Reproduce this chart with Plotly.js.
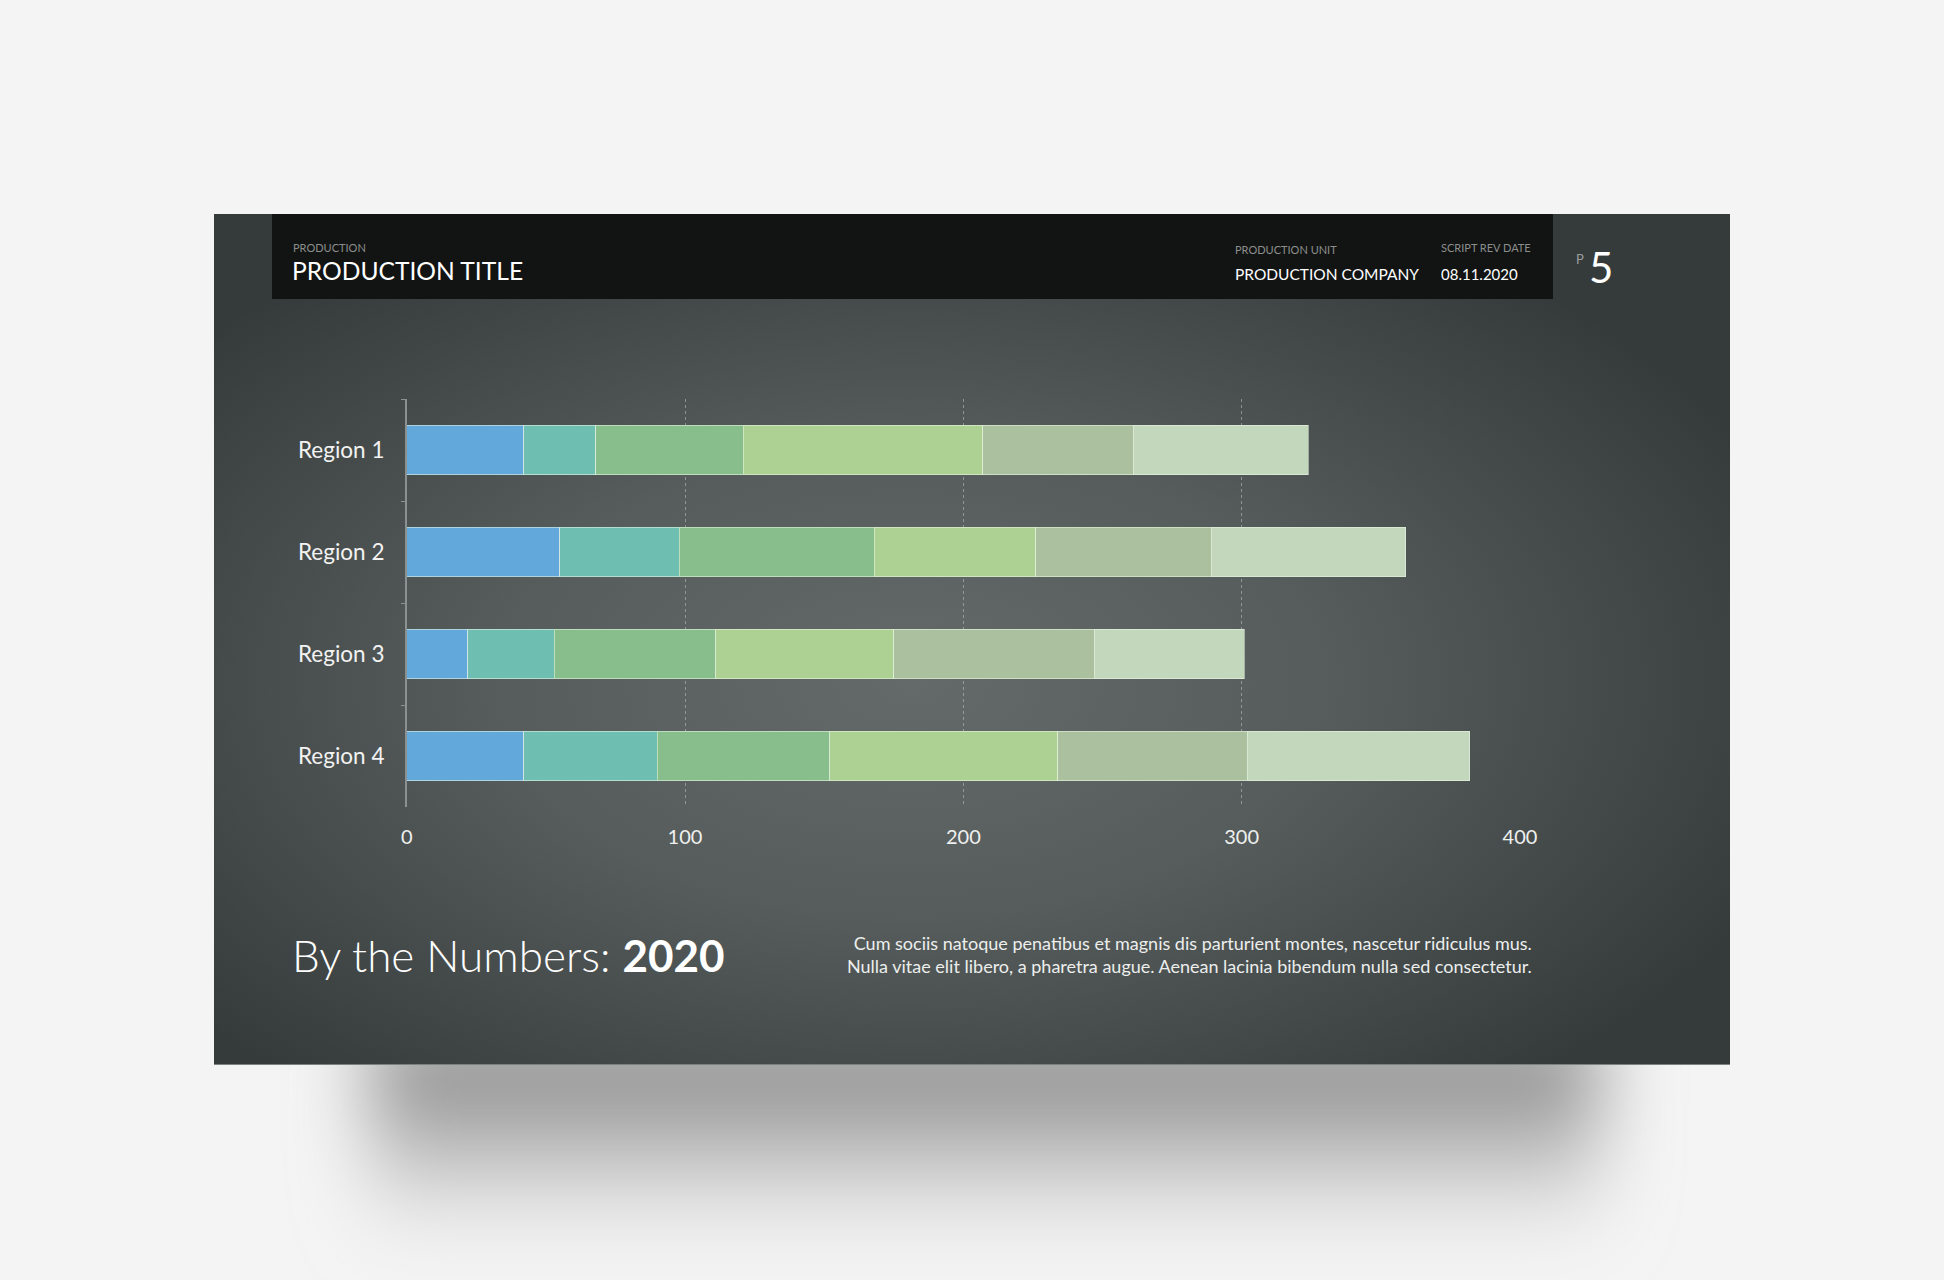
<!DOCTYPE html>
<html>
<head>
<meta charset="utf-8">
<script src="https://cdn.plot.ly/plotly-3.0.1.min.js"></script>
<style>
  html, body { margin: 0; padding: 0; background: #f4f4f4; }
  #chart { width: 1944px; height: 1280px; }
</style>
</head>
<body>
<div id="chart"></div>
<script>
// ---- data ----
const regions = ["Region 1", "Region 2", "Region 3", "Region 4"];
const series1 = [42, 55, 22, 42];
const series2 = [26, 43, 31, 48];
const series3 = [53, 70, 58, 62];
const series4 = [86, 58, 64, 82];
const series5 = [54, 63, 72, 68];
const series6 = [63, 70, 54, 80];
const seriesNames = ["Series 1", "Series 2", "Series 3", "Series 4", "Series 5", "Series 6"];
const xTickValues = [0, 100, 200, 300, 400];
const xTickLabels = ["0", "100", "200", "300", "400"];

// ---- style ----
const colors = ["#62a8da", "#6fbeb2", "#88be8c", "#add192", "#abc09e", "#c3d7bc"];
const W = 1944, H = 1280;
const px = v => v / W;
const py = v => 1 - v / H;
const FONT = "Lato, 'Open Sans', sans-serif";

const allSeries = [series1, series2, series3, series4, series5, series6];
const traces = allSeries.map((vals, i) => ({
  type: "bar",
  orientation: "h",
  name: seriesNames[i],
  y: regions,
  x: vals,
  marker: { color: colors[i], line: { color: "rgba(235,245,230,0.55)", width: 1 } },
  hoverinfo: "x+y+name"
}));

// background slide: gradient + shadow (SVG image)
const bgSvg = `<svg xmlns="http://www.w3.org/2000/svg" width="${W}" height="${H}" viewBox="0 0 ${W} ${H}">
<defs>
<radialGradient id="g" cx="0.46" cy="0.55" r="0.62" gradientUnits="objectBoundingBox">
<stop offset="0" stop-color="#646a69"/>
<stop offset="0.45" stop-color="#565c5b"/>
<stop offset="1" stop-color="#353b3a"/>
</radialGradient>
<linearGradient id="sh" x1="0" y1="0" x2="0" y2="1">
<stop offset="0" stop-color="#7a7a7a" stop-opacity="1"/>
<stop offset="0.5" stop-color="#a8a8a8" stop-opacity="0.8"/>
<stop offset="1" stop-color="#d8d8d8" stop-opacity="0"/>
</linearGradient>
<filter id="b" x="-50%" y="-100%" width="200%" height="300%"><feGaussianBlur stdDeviation="38"/></filter>
</defs>
<rect x="0" y="0" width="${W}" height="${H}" fill="#f4f4f4"/>
<rect x="370" y="1030" width="1230" height="220" fill="url(#sh)" filter="url(#b)"/>
<rect x="214" y="214" width="1516" height="851" fill="url(#g)"/>
<rect x="214" y="1064" width="1516" height="1" fill="#7c8282"/>
</svg>`;
const bgUri = "data:image/svg+xml;charset=utf-8," + encodeURIComponent(bgSvg);

const ann = (text, x, y, size, color, xanchor, extra) => Object.assign({
  text, x: px(x), y: py(y), xref: "paper", yref: "paper",
  xanchor: xanchor || "left", yanchor: "middle", showarrow: false,
  font: { family: FONT, size, color }
}, extra || {});

const layout = {
  width: W, height: H,
  margin: { l: 0, r: 0, t: 0, b: 0, pad: 0 },
  paper_bgcolor: "#f4f4f4",
  plot_bgcolor: "rgba(0,0,0,0)",
  barmode: "stack",
  bargap: 0.514,
  showlegend: false,
  xaxis: {
    domain: [px(406.7), px(1520)],
    range: [0, 400],
    tickvals: xTickValues,
    ticktext: xTickLabels,
    showgrid: true,
    gridcolor: "rgba(190,196,195,0.55)",
    gridwidth: 1,
    griddash: "dot",
    zeroline: false,
    showline: false,
    ticks: "",
    ticklabelstandoff: 16,
    tickfont: { family: FONT, size: 20, color: "#eef0ef" },
    fixedrange: true
  },
  yaxis: {
    domain: [py(807), py(399)],
    autorange: "reversed",
    type: "category",
    showline: true,
    linecolor: "#8b9190",
    linewidth: 1.5,
    ticks: "outside",
    tickson: "boundaries",
    ticklen: 4,
    tickcolor: "#8b9190",
    showgrid: false,
    zeroline: false,
    ticklabelstandoff: 16,
    tickfont: { family: FONT, size: 22.5, color: "#f2f2f2" },
    fixedrange: true
  },
  images: [{
    source: bgUri, xref: "paper", yref: "paper",
    x: 0, y: 1, sizex: 1, sizey: 1, sizing: "stretch",
    xanchor: "left", yanchor: "top", layer: "below"
  }],
  shapes: [{
    type: "rect", xref: "paper", yref: "paper",
    x0: px(272), x1: px(1553), y0: py(299), y1: py(214),
    fillcolor: "#121413", line: { width: 0 }, layer: "below"
  }],
  annotations: [
    ann("PRODUCTION", 291, 248, 11, "#8c8e8d"),
    ann("PRODUCTION TITLE", 290, 271, 24.6, "#ffffff"),
    ann("PRODUCTION UNIT", 1233, 249, 11, "#8c8e8d"),
    ann("PRODUCTION COMPANY", 1233, 274, 15.5, "#ffffff"),
    ann("SCRIPT REV DATE", 1439, 248, 11, "#8c8e8d"),
    ann("08.11.2020", 1439, 274, 15, "#ffffff"),
    ann("P", 1574, 259, 13, "#9a9e9d"),
    ann("5", 1587, 267, 42, "#ffffff"),
    ann("By the Numbers: <b>2020</b>", 290, 955, 44, "#ffffff", "left", { font: { family: FONT, size: 44, color: "#ffffff", weight: 300 } }),
    ann("Cum sociis natoque penatibus et magnis dis parturient montes, nascetur ridiculus mus.<br>Nulla vitae elit libero, a pharetra augue. Aenean lacinia bibendum nulla sed consectetur.",
        1534, 954, 18, "#eceeed", "right", { align: "right" })
  ]
};

Plotly.newPlot("chart", traces, layout, { displayModeBar: false, staticPlot: false });
</script>
</body>
</html>
